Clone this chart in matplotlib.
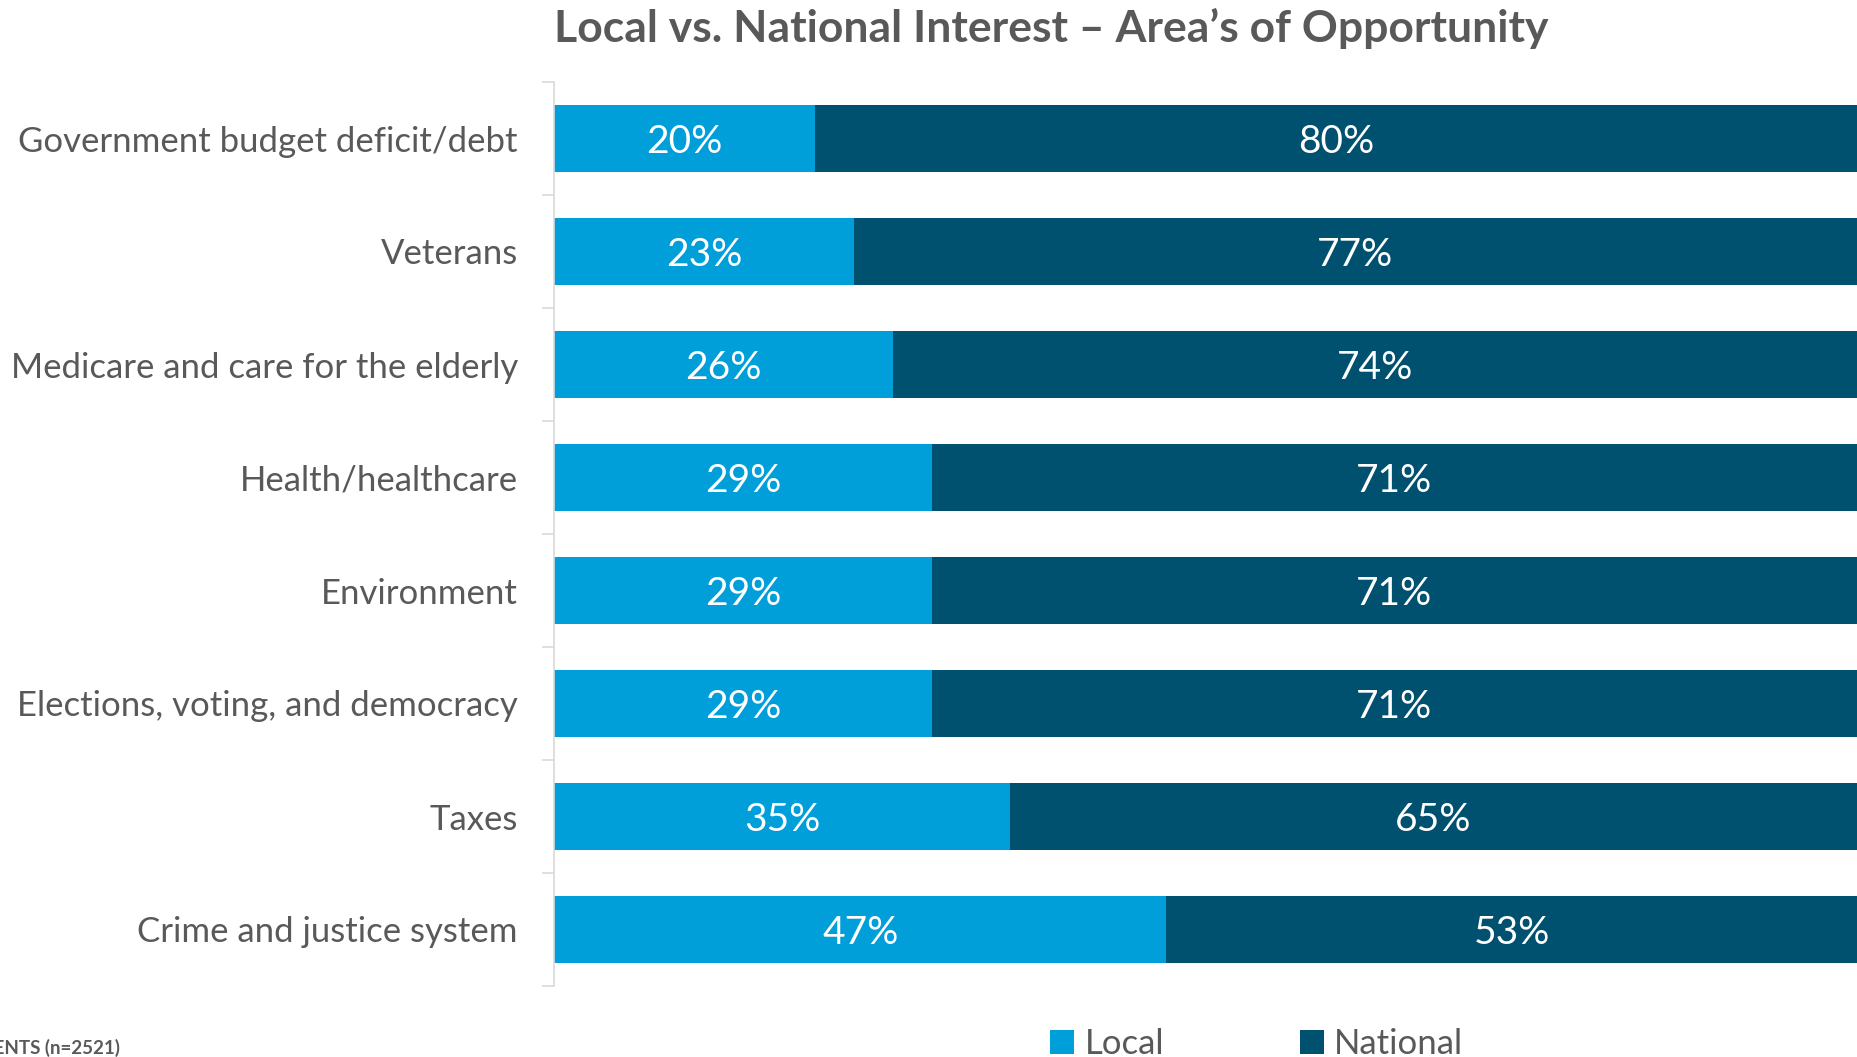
import numpy as np
import matplotlib.pyplot as plt

categories = ["Government budget deficit/debt", "Veterans", "Medicare and care for the elderly",
              "Health/healthcare", "Environment", "Elections, voting, and democracy",
              "Taxes", "Crime and justice system"]
local = [20, 23, 26, 29, 29, 29, 35, 47]
national = [80, 77, 74, 71, 71, 71, 65, 53]

c_local = "#009FDA"
c_nat = "#00506F"
grey = "#595959"

plt.rcParams['font.family'] = ['Lato', 'DejaVu Sans']

fig = plt.figure(figsize=(18.57, 10.57), dpi=100)
ax = fig.add_axes([554/1857, 1 - 986/1057, 1 - 554/1857, (986 - 82)/1057])

y = np.arange(len(categories))
h = 0.585
b1 = ax.barh(y, local, height=h, color=c_local, label="Local")
b2 = ax.barh(y, national, left=local, height=h, color=c_nat, label="National")

for i in range(len(categories)):
    ax.text(local[i] / 2, y[i], f"{local[i]}%", color="white", fontsize=28,
            ha="center", va="center_baseline")
    ax.text(local[i] + national[i] / 2, y[i], f"{national[i]}%", color="white",
            fontsize=28, ha="center", va="center_baseline")

ax.set_xlim(0, 100)
ax.set_ylim(len(categories) - 0.5, -0.5)
ax.set_yticks(y)
ax.set_yticklabels(categories, fontsize=25, color=grey)
ax.set_yticks(np.arange(-0.5, len(categories)), minor=True)
ax.tick_params(axis="y", which="major", length=0, pad=26)
ax.tick_params(axis="y", which="minor", length=8.6, color="#D9D9D9", width=1.2)
ax.set_xticks([])
for s in ["top", "right", "bottom"]:
    ax.spines[s].set_visible(False)
ax.spines["left"].set_color("#D9D9D9")
ax.spines["left"].set_linewidth(1.2)

fig.text(554/1857, 1 - 28/1057, "Local vs. National Interest \u2013 Area\u2019s of Opportunity",
         fontsize=32, fontweight="bold", color=grey, ha="left", va="center")

fig.legend(handles=[b1, b2], loc="center left", bbox_to_anchor=(1036/1857, 1 - 1044/1057),
           ncol=2, frameon=False, fontsize=25, labelcolor=grey, handlelength=0.7,
           handleheight=0.7, handletextpad=0.3, columnspacing=3.9, borderaxespad=0)

# sample note, partly off the left edge
fig.text(120/1857, 1 - 1048/1057, "RESPONDENTS (n=2521)", fontsize=13.5, fontweight="bold",
         color=grey, ha="right", va="center")

fig.savefig("out.png", dpi=100)
